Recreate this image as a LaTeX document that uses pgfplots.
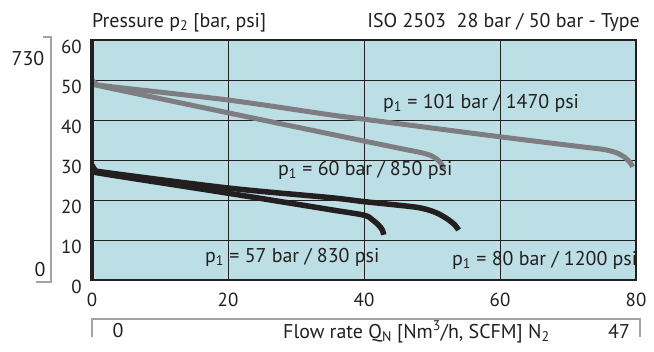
\documentclass[border=0pt]{standalone}
\usepackage{pgfplots}
\pgfplotsset{compat=1.18}
\usepackage{fontspec}
\setmainfont{PT Sans}
\definecolor{bg}{HTML}{BCDFE5}
\definecolor{cg}{HTML}{7D7D82}
\definecolor{ck}{HTML}{231F20}
\definecolor{br}{HTML}{A3A3A3}
\begin{document}
\begin{tikzpicture}[x=1bp,y=1bp]
\path[use as bounding box] (-92,-71) rectangle (562,280);
\begin{axis}[at={(0,0)}, anchor=south west, scale only axis,
  width=544bp, height=240bp,
  xmin=0, xmax=80, ymin=0, ymax=60,
  xtick={0,20,40,60,80}, ytick={0,10,20,30,40,50,60},
  grid=major, major grid style={ck, line width=0.8bp},
  axis background/.style={fill=bg},
  axis line style={draw=none}, major tick length=0pt,
  /pgf/number format/assume math mode=true,
  tick label style={font=\fontsize{19}{19}\selectfont, text=ck, inner sep=0pt},
  yticklabel style={anchor=east, xshift=-10bp, yshift=-7bp},
  xticklabel style={anchor=north, yshift=-13bp},
]
% p1 = 101 bar
\addplot[cg, line width=5bp, smooth, tension=0.5, no marks] coordinates {
 (0,50) (0.5,49.2) (1.5,48.6) (20,45) (35,41.3) (40,40.2) (60,35.8) (72,33.3) (75,32.7) (77,31.9) (78.4,30.6) (79.2,29.2) (79.5,28.3)};
% p1 = 60 bar
\addplot[cg, line width=5bp, smooth, tension=0.5, no marks] coordinates {
 (0,50) (0.5,49.1) (1.5,48.4) (20,41.8) (35,36.5) (45.3,32.9) (48.5,31.8) (50,31) (51,29.8) (51.5,28.6) (51.7,27.6)};
% p1 = 80 bar
\addplot[ck, line width=5.5bp, smooth, tension=0.5, no marks] coordinates {
 (0,28.8) (0.4,27.6) (1.5,27) (20,23) (35,20.6) (40,19.6) (47.2,18.3) (49.3,17.6) (50.9,16.6) (52.4,15.1) (53.4,13.7) (53.9,12.5)};
% p1 = 57 bar
\addplot[ck, line width=5.5bp, smooth, tension=0.5, no marks] coordinates {
 (0,28.3) (0.4,27.2) (1.5,26.6) (20,21.7) (35,17.6) (40,16.2) (41.2,15.1) (42.1,13.8) (42.7,12.5) (42.9,11.3)};
\end{axis}
\draw[ck, line width=1.5bp] (0,0) rectangle (544,240);
\draw[ck, line width=3.5bp] (0,-0.75) -- (0,240.75);
\draw[ck, line width=2.2bp] (0,0) -- (544,0);
\begin{scope}[every node/.style={inner sep=0pt, text=ck, font=\fontsize{20}{20}\selectfont}]
\node[anchor=base west] at (0,253) {Pressure p\textsubscript{2} [bar, psi]};
\node[anchor=base east] at (548,253) {ISO 2503\ \ 28 bar / 50 bar - Type};
\node[anchor=base] at (-64,215) {730};
\node[anchor=base] at (-52,4) {0};
\node[anchor=base] at (26,-57) {0};
\node[anchor=base] at (527,-58) {47};
\node[anchor=base west] at (191,-58) {Flow rate Q\textsubscript{N} [Nm\textsuperscript{3}/h, SCFM] N\textsubscript{2}};
\node[anchor=base west] at (291,172) {p\textsubscript{1} = 101 bar / 1470 psi};
\node[anchor=base west] at (186,105) {p\textsubscript{1} = 60 bar / 850 psi};
\node[anchor=base west] at (113,18) {p\textsubscript{1} = 57 bar / 830 psi};
\node[anchor=base west] at (360,15) {p\textsubscript{1} = 80 bar / 1200 psi};
\end{scope}
\draw[br, line width=2bp] (-49,243) -- (-41,243) -- (-41,-2) -- (-56,-2);
\draw[br, line width=2bp] (0,-57) -- (0,-39) -- (548,-39) -- (548,-57);
\end{tikzpicture}
\end{document}
